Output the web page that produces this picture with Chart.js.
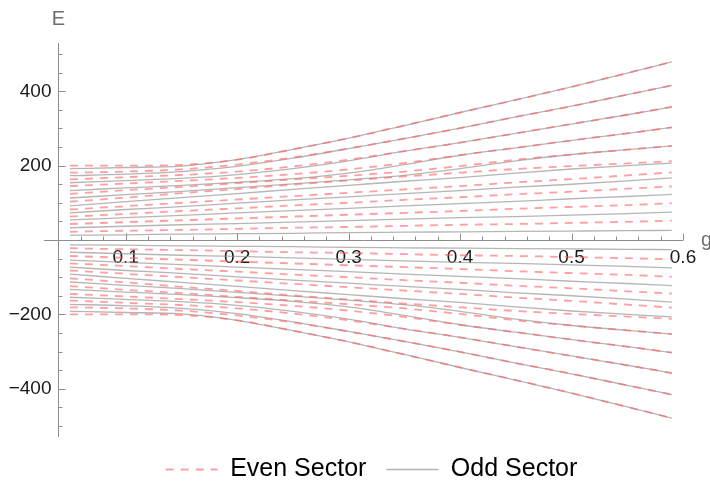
<!DOCTYPE html>
<html>
<head>
<meta charset="utf-8">
<script src="https://cdn.jsdelivr.net/npm/chart.js@4.4.1/dist/chart.umd.min.js"></script>
<style>
  html, body { margin: 0; padding: 0; background: #fff; }
</style>
</head>
<body>
<canvas id="myChart" width="710" height="486"></canvas>

<script>
// coupling g at which every level is sampled
var gValues = [0.05, 0.1, 0.15, 0.2, 0.25, 0.3, 0.35, 0.4, 0.45, 0.5, 0.55, 0.59];

// even sector, positive levels (lowest first)
var evenUpper = [
  [22, 25, 27, 30, 33, 35, 38, 41, 43, 46, 49, 52],
  [43, 48, 53, 58, 63, 68, 73, 78, 84, 89, 94, 99],
  [63, 70, 78, 85, 93, 100, 108, 115, 123, 130, 138, 144],
  [82, 91, 100, 109, 118, 127, 136, 145, 155, 164, 174, 182],
  [103, 114, 126, 137, 149, 160, 171, 181, 191, 199, 206, 212],
  [124, 134, 143, 153, 163, 173, 184, 199, 216, 230, 243, 253],
  [145, 152, 159, 167, 177, 190, 207, 228, 248, 268, 287, 303],
  [163, 169, 175, 184, 198, 216, 239, 262, 287, 312, 337, 358],
  [181, 184, 190, 203, 222, 246, 273, 301, 331, 360, 391, 416],
  [200, 200, 202, 216, 244, 274, 308, 343, 377, 412, 449, 479]
];

// even sector, negative levels
var evenLower = [
  [-22, -25, -27, -30, -33, -35, -38, -41, -43, -46, -49, -52],
  [-43, -48, -53, -58, -63, -68, -73, -78, -84, -89, -94, -99],
  [-63, -70, -78, -85, -93, -100, -108, -115, -123, -130, -138, -144],
  [-82, -91, -100, -109, -118, -127, -136, -145, -155, -164, -174, -182],
  [-103, -114, -126, -137, -149, -160, -171, -181, -191, -199, -206, -212],
  [-124, -134, -143, -153, -163, -173, -184, -199, -216, -230, -243, -253],
  [-145, -152, -159, -167, -177, -190, -207, -228, -248, -268, -287, -303],
  [-163, -169, -175, -184, -198, -216, -239, -262, -287, -312, -337, -358],
  [-181, -184, -190, -203, -222, -246, -273, -301, -331, -360, -391, -416],
  [-200, -200, -202, -216, -244, -274, -308, -343, -377, -412, -449, -479]
];

// odd sector, positive levels
var oddUpper = [
  [13, 14, 16, 17, 18, 20, 21, 22, 23, 24, 25, 26],
  [33, 37, 41, 44, 48, 52, 56, 60, 63, 67, 71, 75],
  [54, 60, 66, 73, 79, 85, 92, 98, 104, 111, 117, 123],
  [73, 82, 90, 99, 108, 116, 125, 133, 142, 150, 159, 167],
  [92, 103, 114, 125, 136, 147, 158, 168, 180, 191, 200, 207],
  [113, 122, 131, 141, 151, 162, 174, 192, 213, 230, 243, 253],
  [133, 140, 147, 155, 165, 180, 203, 228, 248, 268, 287, 303],
  [154, 160, 166, 176, 192, 213, 239, 262, 287, 312, 337, 358],
  [173, 177, 184, 198, 220, 246, 273, 301, 331, 360, 391, 416],
  [192, 195, 199, 216, 244, 274, 308, 343, 377, 412, 449, 479]
];

// odd sector, negative levels
var oddLower = [
  [-13, -14, -16, -17, -18, -20, -21, -22, -23, -24, -25, -26],
  [-33, -37, -41, -44, -48, -52, -56, -60, -63, -67, -71, -75],
  [-54, -60, -66, -73, -79, -85, -92, -98, -104, -111, -117, -123],
  [-73, -82, -90, -99, -108, -116, -125, -133, -142, -150, -159, -167],
  [-92, -103, -114, -125, -136, -147, -158, -168, -180, -191, -200, -207],
  [-113, -122, -131, -141, -151, -162, -174, -192, -213, -230, -243, -253],
  [-133, -140, -147, -155, -165, -180, -203, -228, -248, -268, -287, -303],
  [-154, -160, -166, -176, -192, -213, -239, -262, -287, -312, -337, -358],
  [-173, -177, -184, -198, -220, -246, -273, -301, -331, -360, -391, -416],
  [-192, -195, -199, -216, -244, -274, -308, -343, -377, -412, -449, -479]
];

var xTickValues = [0.1, 0.2, 0.3, 0.4, 0.5, 0.6];
var xTickLabels = ["0.1", "0.2", "0.3", "0.4", "0.5", "0.6"];
var yTickValues = [400, 200, -200, -400];
var yTickLabels = ["400", "200", "\u2212200", "\u2212400"];
var seriesNames = ["Even Sector", "Odd Sector"];

var evenColor = "rgba(255, 95, 95, 0.6)";
var oddColor = "rgba(150, 150, 150, 0.7)";
var yAxisAtG = 0.039;
var xAxisStartG = 0.0267;

Chart.defaults.font.family = "'Liberation Sans', Arial, sans-serif";

function toPoints(levels) {
  return levels.map(function (v, i) { return { x: gValues[i], y: v }; });
}

var datasets = [];
evenUpper.concat(evenLower).forEach(function (lv) {
  datasets.push({
    label: seriesNames[0],
    data: toPoints(lv),
    borderColor: evenColor,
    borderWidth: 1.8,
    borderDash: [8, 7],
    pointRadius: 0,
    fill: false,
    cubicInterpolationMode: "monotone"
  });
});
oddUpper.concat(oddLower).forEach(function (lv) {
  datasets.push({
    label: seriesNames[1],
    data: toPoints(lv),
    borderColor: oddColor,
    borderWidth: 1.3,
    pointRadius: 0,
    fill: false,
    cubicInterpolationMode: "monotone"
  });
});

// Mathematica-like axes crossing inside the plot
var axesPlugin = {
  id: "crossAxes",
  beforeDatasetsDraw: function (chart) {
    var ctx = chart.ctx;
    var xs = chart.scales.x, ys = chart.scales.y;
    var y0 = Math.round(ys.getPixelForValue(0)) + 0.5;
    var x0 = Math.round(xs.getPixelForValue(yAxisAtG)) + 0.5;
    ctx.save();
    ctx.strokeStyle = "#8c8c8c";
    ctx.lineWidth = 1;
    ctx.beginPath();
    ctx.moveTo(xs.getPixelForValue(xAxisStartG), y0);
    ctx.lineTo(xs.getPixelForValue(0.6), y0);
    ctx.moveTo(x0, ys.getPixelForValue(530));
    ctx.lineTo(x0, ys.getPixelForValue(-530));
    // x ticks every 0.02, pointing up
    for (var i = 3; i <= 30; i++) {
      var px = Math.round(xs.getPixelForValue(i * 0.02)) + 0.5;
      var len = (i % 5 === 0) ? 7 : 4;
      ctx.moveTo(px, y0);
      ctx.lineTo(px, y0 - len);
    }
    // y ticks every 50, pointing right
    for (var k = -10; k <= 10; k++) {
      if (k === 0) continue;
      var py = Math.round(ys.getPixelForValue(k * 50)) + 0.5;
      var l2 = (k % 4 === 0) ? 7 : 4;
      ctx.moveTo(x0, py);
      ctx.lineTo(x0 + l2, py);
    }
    ctx.stroke();

    ctx.fillStyle = "#1a1a1a";
    ctx.font = "19px 'Liberation Sans', Arial, sans-serif";
    ctx.textAlign = "center";
    ctx.textBaseline = "middle";
    xTickValues.forEach(function (v, i) {
      ctx.fillText(xTickLabels[i], xs.getPixelForValue(v), y0 + 17);
    });
    ctx.textAlign = "right";
    yTickValues.forEach(function (v, i) {
      ctx.fillText(yTickLabels[i], x0 - 7, ys.getPixelForValue(v));
    });

    ctx.fillStyle = "#6e6e6e";
    ctx.font = "20px 'Liberation Sans', Arial, sans-serif";
    ctx.textAlign = "center";
    ctx.fillText("E", x0, 19);
    ctx.textAlign = "left";
    ctx.fillText("g", xs.getPixelForValue(0.6) + 18, y0);
    ctx.restore();
  }
};

var ctx = document.getElementById("myChart").getContext("2d");
var chart = new Chart(ctx, {
  type: "line",
  data: { datasets: datasets },
  options: {
    responsive: false,
    animation: false,
    devicePixelRatio: 1,
    layout: { padding: { left: 60, right: 27, top: 43, bottom: -6 } },
    scales: {
      x: { type: "linear", min: 0.0411, max: 0.6, display: false },
      y: { type: "linear", min: -530, max: 530, display: false }
    },
    plugins: {
      tooltip: { enabled: false },
      legend: {
        position: "bottom",
        labels: {
          usePointStyle: true,
          pointStyleWidth: 52,
          padding: 20,
          color: "#1a1a1a",
          font: { size: 25 },
          generateLabels: function () {
            return [
              { text: seriesNames[0], strokeStyle: evenColor, fillStyle: evenColor, lineWidth: 2,
                lineDash: [8, 7], pointStyle: "line", hidden: false, datasetIndex: 0 },
              { text: seriesNames[1], strokeStyle: oddColor, fillStyle: oddColor, lineWidth: 1.5,
                lineDash: [], pointStyle: "line", hidden: false, datasetIndex: 20 }
            ];
          }
        }
      }
    }
  },
  plugins: [axesPlugin]
});
</script>
</body>
</html>
